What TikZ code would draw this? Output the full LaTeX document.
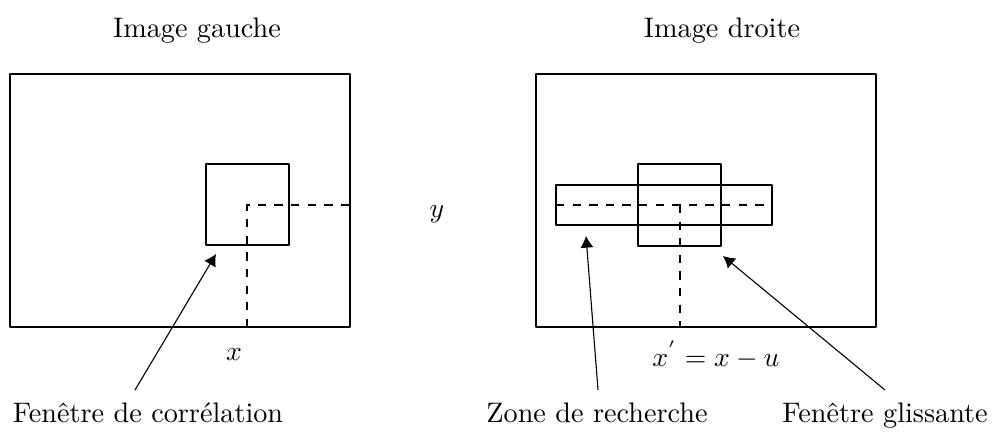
\documentclass[tikz,border=0pt]{standalone}
\usetikzlibrary{arrows.meta}
\begin{document}
\begin{tikzpicture}[line join=round,x=0.127mm,y=-0.127mm,font=\fontsize{10.2pt}{12pt}\selectfont]
\useasboundingbox (0,0) rectangle (1002,432);
% image gauche
\draw (10,74) rectangle (350,327);
\draw (206,164) rectangle (289,245);
\draw[dashed] (247,327) -- (247,205) -- (350,205);
% image droite
\draw (536,74) rectangle (876,327);
\draw (638,164) rectangle (721,246);
\draw (556,185) rectangle (772,225);
\draw[dashed] (556,205) -- (772,205);
\draw[dashed] (680,205) -- (680,327);
% textes
\node (gauche) at (197,31) {Image gauche};
\node (droite) at (722,31) {Image droite};
\node (y) at (437,214) {$y$};
\node (x) at (234,355) {$x$};
\node (xp) at (716,355) {$x^{'}=x-u$};
\node[anchor=base] (correl) at (148,422) {Fenêtre de corrélation};
\node[anchor=base] (zone) at (597,422) {Zone de recherche};
\node[anchor=base] (gliss) at (885,422) {Fenêtre glissante};
% fleches
\coordinate (correlTip) at (216,254);
\coordinate (zoneTip) at (586,236);
\coordinate (glissTip) at (723,256);
\coordinate (correlFoot) at (135,390);
\coordinate (zoneFoot) at (598,390);
\coordinate (glissFoot) at (885,390);
\draw[->,>={Latex[length=4.2pt,width=4.8pt]}] (correlFoot) -- (correlTip);
\draw[->,>={Latex[length=4.2pt,width=4.8pt]}] (zoneFoot) -- (zoneTip);
\draw[->,>={Latex[length=4.2pt,width=4.8pt]}] (glissFoot) -- (glissTip);
\end{tikzpicture}
\end{document}
